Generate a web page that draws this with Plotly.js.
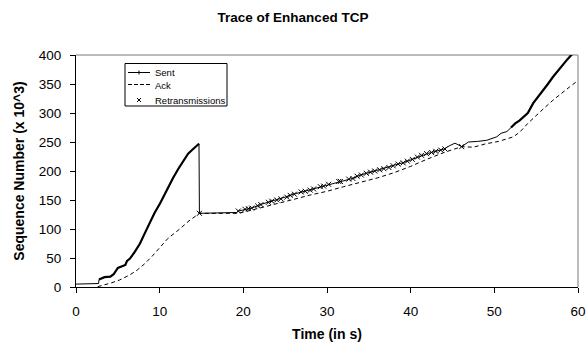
<!DOCTYPE html>
<html>
<head>
<meta charset="utf-8">
<script src="https://cdn.plot.ly/plotly-3.0.1.min.js"></script>
<style>html,body{margin:0;padding:0;background:#fff}#chart{width:586px;height:347px}</style>
</head>
<body>
<div id="chart"></div>
<script>
// Sent sequence numbers (x 10^3) vs time (s)
const sentTime = [0, 2.7, 2.75, 3.1, 3.4, 4.1, 4.5, 5.0, 5.5, 5.9, 6.1, 6.45, 7.0, 7.65, 8.2, 8.84, 9.4, 10.04, 10.6, 11.0, 11.6, 12.2, 12.8, 13.4, 14.0, 14.7, 14.75, 19.2, 19.4, 20.2, 21.0, 22.0, 23.0, 24.0, 25.0, 26.0, 27.0, 28.0, 29.0, 30.0, 31.0, 32.0, 33.0, 34.0, 35.0, 36.0, 37.0, 38.0, 39.0, 40.0, 41.0, 42.0, 43.0, 44.0, 44.7, 45.3, 46.1, 46.9, 48.0, 49.1, 50.3, 50.8, 51.5, 52.0, 52.5, 53.0, 53.5, 54.0, 54.65, 55.2, 55.8, 56.4, 57.0, 57.6, 58.2, 58.7, 59.2, 59.4];
const sentSeq  = [5, 6, 13, 15, 17, 18, 22, 33, 36, 38, 45, 49, 60, 75, 92, 112, 128, 144, 160, 172, 188, 203, 216, 230, 238, 247, 127, 128.5, 131, 134, 136, 142, 146, 150, 155, 160, 164, 167, 172, 176, 180, 184, 187, 193, 197, 201, 205, 210, 214, 219, 225, 230, 234, 238, 244, 248, 242, 250, 251, 253, 259, 265, 268, 275, 282, 287, 294, 300, 317, 327, 338, 350, 362, 373, 383, 392, 400, 403];

// Acknowledged sequence numbers
const ackTime = [2.6, 3.3, 4.3, 5.2, 6.06, 6.45, 7.3, 8.2, 9.1, 10.04, 11.0, 12.4, 13.5, 14.75, 19.2, 20.0, 22.0, 24.0, 26.0, 28.0, 30.0, 32.0, 34.0, 36.0, 38.0, 40.0, 41.9, 44.0, 46.1, 47.5, 49.0, 50.5, 52.3, 53.1, 54.0, 55.0, 56.0, 57.0, 58.0, 59.0, 60.0];
const ackSeq  = [0.5, 3, 7.5, 12, 18, 21, 29, 40, 53, 69, 84, 100, 114, 127, 127, 129, 136, 143, 151, 158.6, 165, 173, 180, 188, 197, 208, 220, 232, 242, 241, 247, 251, 259, 268, 282, 296, 309, 322, 334, 345, 356];

// Retransmissions
const rtxTime = [14.75, 19.4, 20.2, 20.6, 21.0, 21.7, 22.1, 23.0, 23.4, 24.0, 24.5, 25.2, 25.6, 26.1, 26.9, 27.4, 28.0, 28.4, 29.2, 29.6, 30.2, 31.4, 31.6, 32.6, 33.1, 33.6, 34.1, 34.7, 35.2, 35.7, 36.3, 36.8, 37.4, 37.9, 38.5, 39.1, 39.6, 40.2, 40.8, 41.3, 41.9, 42.5, 43.0, 43.6, 44.1, 46.1];
const rtxSeq  = [127, 131, 134, 135, 136, 140, 142, 146, 148, 150, 152, 155, 158, 160, 164, 165, 167, 169, 173, 174, 177, 182, 182, 186, 187, 191, 193, 196, 198, 200, 202, 204, 206, 209, 212, 214, 217, 220, 224, 227, 230, 232, 234, 236, 238, 242];

const xTicks = [0, 10, 20, 30, 40, 50, 60];
const yTicks = [0, 50, 100, 150, 200, 250, 300, 350, 400];
const seriesNames = ['Sent', 'Ack', 'Retransmissions'];

// dense-burst segments of the Sent trace (slow start phases) are drawn heavier
function burst(t0, t1) {
  const xs = [], ys = [];
  sentTime.forEach((t, i) => { if (t >= t0 && t <= t1) { xs.push(t); ys.push(sentSeq[i]); } });
  return {xs, ys};
}
const b1 = burst(2.75, 14.7), b2 = burst(52.0, 59.4);

const traces = [
  {x: sentTime, y: sentSeq, name: seriesNames[0], type: 'scatter', mode: 'lines',
   line: {color: '#000', width: 1}},
  {x: b1.xs, y: b1.ys, name: seriesNames[0], type: 'scatter', mode: 'lines', showlegend: false,
   line: {color: '#000', width: 2.2}},
  {x: b2.xs, y: b2.ys, name: seriesNames[0], type: 'scatter', mode: 'lines', showlegend: false,
   line: {color: '#000', width: 2.2}},
  {x: ackTime, y: ackSeq, name: seriesNames[1], type: 'scatter', mode: 'lines',
   line: {color: '#000', width: 1, dash: '4px,3px'}},
  {x: rtxTime, y: rtxSeq, name: seriesNames[2], type: 'scatter', mode: 'markers',
   marker: {symbol: 'x-thin-open', size: 5, color: '#000', line: {color: '#000', width: 1}}}
];

const font = 'Arial, "Liberation Sans", sans-serif';

// Manual legend (compact, like the original)
const L = 76, W = 502, B = 287, H = 232;
const px = v => (v - L) / W, py = v => (B - v) / H;
const legShapes = [
  {type: 'rect', xref: 'paper', yref: 'paper', x0: px(125), x1: px(227), y0: py(106), y1: py(63.5),
   line: {color: '#000', width: 1}, fillcolor: '#fff', layer: 'above'},
  {type: 'line', xref: 'paper', yref: 'paper', x0: px(128), x1: px(150), y0: py(72.5), y1: py(72.5), line: {color: '#000', width: 1}},
  {type: 'line', xref: 'paper', yref: 'paper', x0: px(139), x1: px(139), y0: py(70.5), y1: py(74.5), line: {color: '#000', width: 1}},
  {type: 'line', xref: 'paper', yref: 'paper', x0: px(128), x1: px(150), y0: py(84.5), y1: py(84.5), line: {color: '#000', width: 1, dash: '4px,2px'}},
  {type: 'line', xref: 'paper', yref: 'paper', x0: px(137), x1: px(141), y0: py(98), y1: py(102), line: {color: '#000', width: 1}},
  {type: 'line', xref: 'paper', yref: 'paper', x0: px(137), x1: px(141), y0: py(102), y1: py(98), line: {color: '#000', width: 1}}
];
const legAnn = seriesNames.map((n, i) => ({
  text: n, xref: 'paper', yref: 'paper', x: px(152.5), y: py([72.5, 85, 100][i]),
  xanchor: 'left', yanchor: 'middle', showarrow: false, font: {size: 9.5, family: font, color: '#000'}
}));

const layout = {
  width: 586, height: 347,
  margin: {l: 76, r: 8, t: 55, b: 60},
  paper_bgcolor: '#fff', plot_bgcolor: '#fff',
  font: {family: font, color: '#000', size: 13.5},
  title: {text: '<b>Trace of Enhanced TCP</b>', x: 0.5, xanchor: 'center', y: 0.95, yanchor: 'middle', font: {size: 13.5, family: font}},
  showlegend: false,
  xaxis: {range: [0, 60], tickvals: xTicks, ticktext: xTicks.map(String), showgrid: false, zeroline: false,
          showline: true, linecolor: '#000', linewidth: 1, ticks: 'outside', ticklen: 5, tickcolor: '#000',
          ticklabelstandoff: 7,
          title: {text: '<b>Time (in s)</b>', font: {size: 14, family: font}, standoff: 10}},
  yaxis: {range: [0, 400], tickvals: yTicks, ticktext: yTicks.map(String), showgrid: false, zeroline: false,
          showline: true, linecolor: '#000', linewidth: 1, ticks: 'outside', ticklen: 5, tickcolor: '#000',
          ticklabelstandoff: 6,
          title: {text: '<b>Sequence Number (x 10^3)</b>', font: {size: 14, family: font}, standoff: 10}},
  shapes: [
    {type: 'line', xref: 'paper', yref: 'paper', x0: 0, x1: 1, y0: 1, y1: 1, line: {color: '#a6a6a6', width: 1.5}, layer: 'below'},
    {type: 'line', xref: 'paper', yref: 'paper', x0: 1, x1: 1, y0: 0, y1: 1, line: {color: '#a6a6a6', width: 1.5}, layer: 'below'}
  ].concat(legShapes),
  annotations: legAnn
};

Plotly.newPlot('chart', traces, layout, {displayModeBar: false, staticPlot: true});
</script>
</body>
</html>
